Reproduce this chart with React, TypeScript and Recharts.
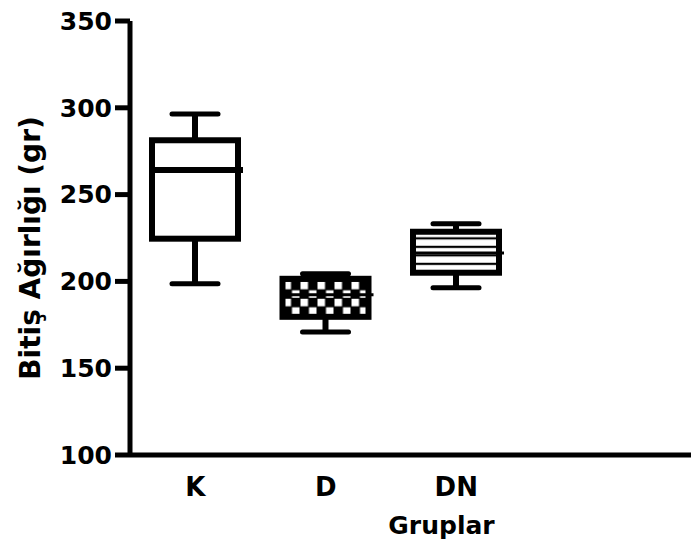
import React from 'react';
import { ComposedChart, Bar, XAxis, YAxis } from 'recharts';

// box plot values
const groups = ['K', 'D', 'DN', ''];
const minValues = [198.6, 170.9, 196.3];
const q1Values = [224.6, 179.6, 205.0];
const medianValues = [264.2, 192.3, 216.3];
const q3Values = [281.3, 201.5, 228.6];
const maxValues = [296.4, 204.4, 233.2];
const yTicks = [100, 150, 200, 250, 300, 350];

const data = groups.map((group, i) => ({
  group,
  min: minValues[i],
  q1: q1Values[i],
  median: medianValues[i],
  q3: q3Values[i],
  max: maxValues[i],
}));

const FONT = '"DejaVu Sans", Verdana, sans-serif';

const BoxShape = (props: any) => {
  const { x, y, width, height, payload } = props;
  if (payload == null || payload.min == null) return null;
  const top = Math.min(y, y + height);
  const bottom = Math.max(y, y + height);
  const toPx = (v: number) =>
    bottom - ((v - payload.min) / (payload.max - payload.min)) * (bottom - top);
  const cx = x + width / 2;
  const half = 43;
  const cap = 23;
  const yq1 = toPx(payload.q1);
  const yq3 = toPx(payload.q3);
  const ymed = toPx(payload.median);
  const id = 'pat-' + payload.group;
  const left = cx - half;

  let fill = '#fff';
  let defs = null;
  if (payload.group === 'D') {
    fill = `url(#${id})`;
    defs = (
      <pattern id={id} patternUnits="userSpaceOnUse" x={left} y={yq3 + 2} width={17} height={17}>
        <rect x={0} y={0} width={17} height={17} fill="#000" />
        <rect x={1} y={1} width={7.5} height={7.5} fill="#fff" />
        <rect x={9.5} y={9.5} width={7.5} height={7.5} fill="#fff" />
      </pattern>
    );
  } else if (payload.group === 'DN') {
    fill = `url(#${id})`;
    defs = (
      <pattern id={id} patternUnits="userSpaceOnUse" x={left} y={yq3} width={10} height={8.5}>
        <rect x={0} y={0} width={10} height={8.5} fill="#fff" />
        <rect x={0} y={5.5} width={10} height={2.2} fill="#000" />
      </pattern>
    );
  }

  return (
    <g>
      {defs && <defs>{defs}</defs>}
      <line x1={cx} x2={cx} y1={top} y2={yq3} stroke="#000" strokeWidth={6} />
      <line x1={cx} x2={cx} y1={yq1} y2={bottom} stroke="#000" strokeWidth={6} />
      <line x1={cx - cap} x2={cx + cap} y1={top} y2={top} stroke="#000" strokeWidth={5} strokeLinecap="round" />
      <line x1={cx - cap} x2={cx + cap} y1={bottom} y2={bottom} stroke="#000" strokeWidth={5} strokeLinecap="round" />
      <rect x={left} y={yq3} width={half * 2} height={yq1 - yq3} fill={fill} stroke="#000" strokeWidth={6} />
      <line x1={left} x2={cx + half + 5} y1={ymed} y2={ymed} stroke="#000" strokeWidth={payload.group === 'K' ? 6 : 3} />
    </g>
  );
};

export default function App() {
  return (
    <div style={{ position: 'absolute', left: 0, top: 0, width: 691, height: 553, background: '#fff' }}>
      <ComposedChart width={691} height={553} data={data} margin={{ top: 21, right: 0, left: 0, bottom: 13 }}>
        <XAxis
          dataKey="group"
          type="category"
          padding={{ left: 0, right: 39 }}
          axisLine={{ stroke: '#000', strokeWidth: 5 }}
          tickLine={false}
          tickSize={0}
          tickMargin={23}
          height={85}
          tick={{ fill: '#000', fontSize: 26, fontFamily: FONT, fontWeight: 'bold' }}
          label={{
            value: 'Gruplar',
            position: 'insideBottom',
            offset: 6,
            dx: 31,
            style: { fill: '#000', fontSize: 25, fontFamily: FONT, fontWeight: 'bold' },
          }}
        />
        <YAxis
          type="number"
          domain={[100, 350]}
          ticks={yTicks}
          interval={0}
          width={130}
          axisLine={{ stroke: '#000', strokeWidth: 5 }}
          tickLine={{ stroke: '#000', strokeWidth: 5 }}
          tickSize={15}
          tickMargin={3}
          tick={{ fill: '#000', fontSize: 25, fontFamily: FONT, fontWeight: 'bold' }}
          label={{
            value: 'Bitiş Ağırlığı (gr)',
            angle: -90,
            position: 'insideLeft',
            offset: 30,
            dy: 10,
            style: { textAnchor: 'middle', fill: '#000', fontSize: 28, fontFamily: FONT, fontWeight: 'bold' },
          }}
        />
        <Bar
          dataKey={(d: any) => (d.min == null ? null : [d.min, d.max])}
          barSize={90}
          shape={BoxShape}
          isAnimationActive={false}
        />
      </ComposedChart>
    </div>
  );
}
